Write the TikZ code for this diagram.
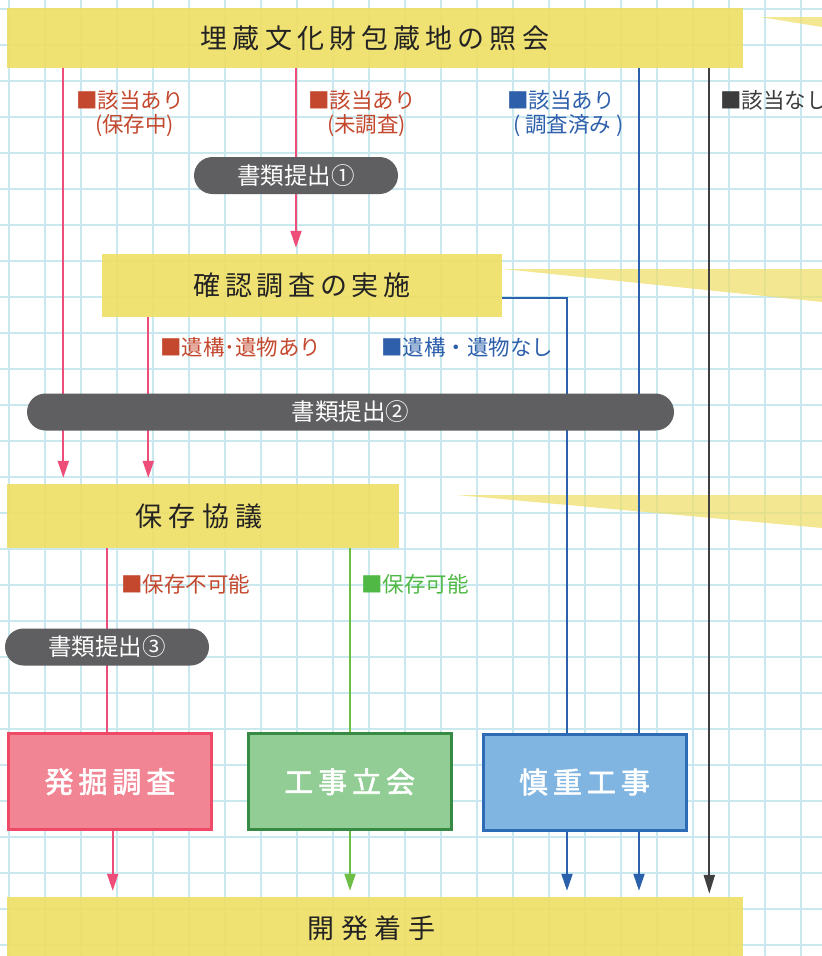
\documentclass[tikz,border=0pt]{standalone}
\usepackage{fontspec}
\setmainfont{Noto Sans CJK JP}[AutoFakeBold=2]
\usetikzlibrary{arrows.meta,shapes.misc}
\definecolor{gridc}{RGB}{202,233,238}
\definecolor{ycol}{RGB}{239,222,100}
\definecolor{pillc}{RGB}{95,95,97}
\definecolor{pinkl}{RGB}{238,77,122}
\definecolor{greenl}{RGB}{110,190,70}
\definecolor{bluel}{RGB}{43,96,170}
\definecolor{darkl}{RGB}{64,64,64}
\definecolor{redt}{RGB}{196,72,46}
\definecolor{bluet}{RGB}{45,95,170}
\definecolor{greent}{RGB}{80,185,70}
\definecolor{darkt}{RGB}{60,60,60}
\definecolor{titlet}{RGB}{35,35,35}
\definecolor{hkfill}{RGB}{242,133,147}
\definecolor{hkdraw}{RGB}{238,74,104}
\definecolor{kjfill}{RGB}{145,205,148}
\definecolor{kjdraw}{RGB}{54,138,68}
\definecolor{scfill}{RGB}{128,181,226}
\definecolor{scdraw}{RGB}{45,108,180}
\pgfdeclarelayer{gridlayer}
\pgfdeclarelayer{linelayer}
\pgfsetlayers{gridlayer,linelayer,main}
\tikzset{
  ybox/.style={fill=ycol, fill opacity=0.9, text opacity=1, inner sep=0pt, text=titlet},
  pill/.style={rounded rectangle, fill=pillc, text=white, inner sep=0pt, minimum height=37pt, font=\fontsize{23.5}{27}\selectfont},
  cbox/.style={line width=3pt, inner sep=0pt, minimum width=203pt, minimum height=96pt, text=white, font=\fontsize{29}{32}\selectfont\bfseries\addfontfeatures{LetterSpace=17}},
  lab/.style={anchor=west, inner sep=0pt, font=\fontsize{21.5}{25}\selectfont},
  conn/.style={line width=2pt},
  tip/.style={-{Triangle[length=17pt,width=11pt]}, shorten >=6pt},
}
\begin{document}
\begin{tikzpicture}[x=1pt,y=-1pt]
\useasboundingbox (0,0) rectangle (822,956);
\begin{pgfonlayer}{gridlayer}
  \fill[white] (0,0) rectangle (822,956);
  \foreach \i in {0,...,22} \draw[gridc, line width=1.5pt] ({9+36*\i},0) -- ({9+36*\i},956);
  \foreach \j in {0,...,26} \draw[gridc, line width=1.5pt] (0,{9+36*\j}) -- (822,{9+36*\j});
  \fill[ycol, opacity=0.7] (760,17) -- (822,17) -- (822,27) -- cycle;
  \fill[ycol, opacity=0.7] (503,269) -- (822,269) -- (822,302) -- cycle;
  \fill[ycol, opacity=0.7] (457,495) -- (822,495) -- (822,528) -- cycle;
\end{pgfonlayer}

% main boxes
\node[ybox, minimum width=736pt, minimum height=60pt, font=\fontsize{27}{30}\selectfont\addfontfeatures{LetterSpace=19}] (top) at (375,38) {埋蔵文化財包蔵地の照会};
\node[ybox, minimum width=400pt, minimum height=63pt, font=\fontsize{27}{30}\selectfont\addfontfeatures{LetterSpace=17}] (kakunin) at (302,285.5) {確認調査の実施};
\node[ybox, minimum width=392pt, minimum height=64pt, font=\fontsize{27}{30}\selectfont\addfontfeatures{LetterSpace=24}] (hozon) at (203,516) {\kern-8pt保存協議};
\node[ybox, minimum width=736pt, minimum height=63pt, font=\fontsize{27}{30}\selectfont\addfontfeatures{LetterSpace=24}] (kaihatsu) at (375,928.5) {\kern-7pt開発着手};

% pills
\node[pill, minimum width=204pt] (p1) at (296,175.5) {書類提出①};
\node[pill, minimum width=647pt] (p2) at (350.5,412) {書類提出②};
\node[pill, minimum width=204pt] (p3) at (107,647) {書類提出③};

% colored result boxes
\node[cbox, fill=hkfill, draw=hkdraw] (hakkutsu) at (110,781.7) {発掘調査};
\node[cbox, fill=kjfill, draw=kjdraw] (koji) at (349.7,781.7) {工事立会};
\node[cbox, fill=scfill, draw=scdraw] (shincho) at (584.5,782) {慎重工事};

% labels
\node[lab, text=redt] (lA1) at (76,100) {■該当あり};
\node[lab, text=redt] (lA2) at (95,126) {(保存中)};
\node[lab, text=redt] (lB1) at (308,100) {■該当あり};
\node[lab, text=redt] (lB2) at (327,126) {(未調査)};
\node[lab, text=bluet] (lC1) at (507,100) {■該当あり};
\node[lab, text=bluet] (lC2) at (513,126) {(\hspace{5pt}調査済み\hspace{5pt})};
\node[lab, text=darkt] (lD1) at (720,100) {■該当なし};
\node[lab, text=redt] (lE) at (160,347) {■遺構･遺物あり};
\node[lab, text=bluet] (lF) at (381,347) {■遺構・遺物なし};
\node[lab, text=redt] (lG) at (121,584) {■保存不可能};
\node[lab, text=greent] (lH) at (361,584) {■保存可能};

% connectors
\coordinate (xa) at (63.3,0);
\coordinate (xb) at (296,0);
\coordinate (xc) at (148.3,0);
\coordinate (xd) at (567,0);
\coordinate (xe) at (639,0);
\coordinate (xf) at (709.3,0);
\coordinate (xg) at (106.7,0);
\coordinate (xh) at (350,0);
\coordinate (xi) at (112.7,0);
\coordinate (yb) at (0,298);
\begin{pgfonlayer}{linelayer}
  \draw[conn, pinkl, tip] (top.south -| xa) -- (hozon.north -| xa);
  \draw[conn, pinkl, tip] (top.south -| xb) -- (kakunin.north -| xb);
  \draw[conn, pinkl, tip] (kakunin.south -| xc) -- (hozon.north -| xc);
  \draw[conn, bluel, tip] (kakunin.east |- yb) -| (kaihatsu.north -| xd);
  \draw[conn, bluel, tip] (top.south -| xe) -- (kaihatsu.north -| xe);
  \draw[conn, darkl, line width=2.2pt, -{Triangle[length=19pt,width=11pt]}, shorten >=3pt] (top.south -| xf) -- (kaihatsu.north -| xf);
  \draw[conn, pinkl] (hozon.south -| xg) -- (hakkutsu.north -| xg);
  \draw[conn, greenl] (hozon.south -| xh) -- (koji.north -| xh);
  \draw[conn, pinkl, tip] (hakkutsu.south -| xi) -- (kaihatsu.north -| xi);
  \draw[conn, greenl, tip] (koji.south -| xh) -- (kaihatsu.north -| xh);
\end{pgfonlayer}
\end{tikzpicture}
\end{document}
